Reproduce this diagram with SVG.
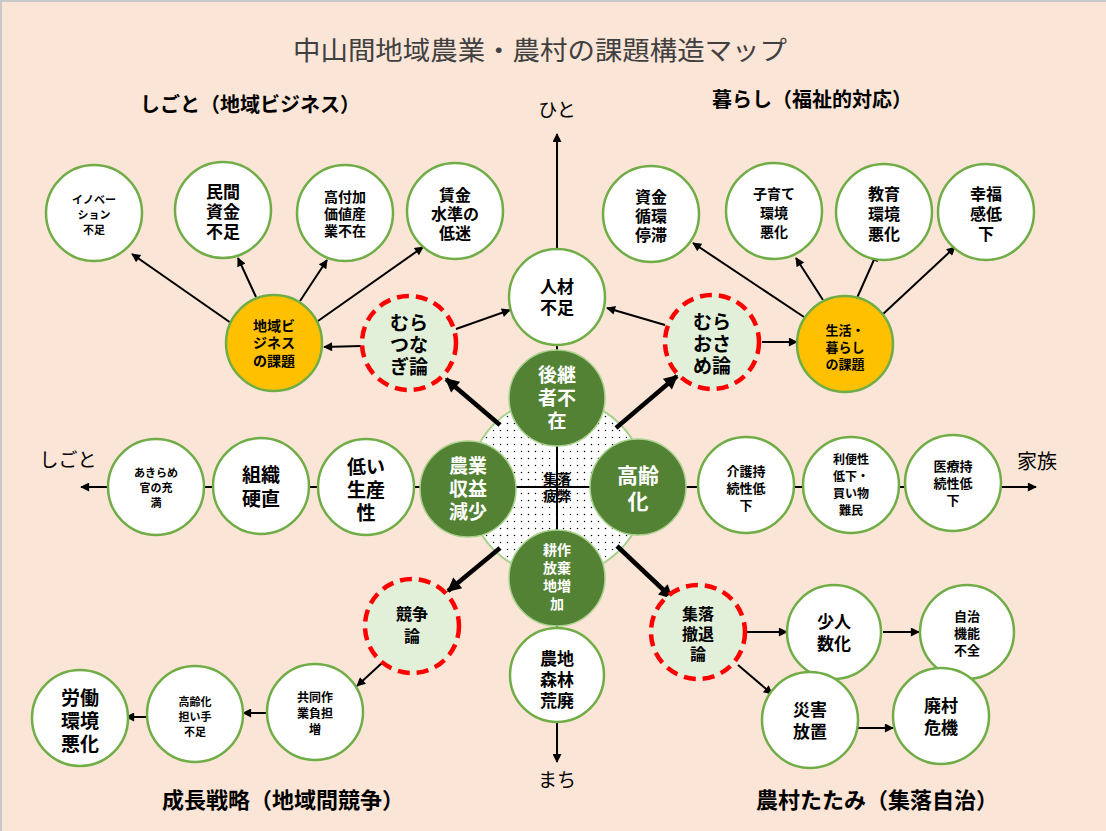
<svg xmlns="http://www.w3.org/2000/svg" width="1106" height="831" viewBox="0 0 1106 831">
<style>
  text { font-family: "Liberation Sans", "Noto Sans CJK JP", sans-serif; text-anchor: middle; font-weight: bold; fill: #000; }
  .w { fill: #fff; stroke: #70AD47; stroke-width: 2.5; }
  .dg { fill: #548235; stroke: #A9D18E; stroke-width: 1.5; }
  .or { fill: #FFC000; stroke: #70AD47; stroke-width: 2.5; }
  .rd { fill: #E2F0D9; stroke: #FF0000; stroke-width: 4.5; stroke-dasharray: 12 7; }
  .wt { fill: #fff; }
  .ln { stroke: #000; stroke-width: 2; fill: none; }
  .thin { stroke: #000; stroke-width: 2; fill: none; marker-end: url(#ah); }
  .thick { stroke: #000; stroke-width: 4.5; fill: none; marker-end: url(#ahb); }
  .sec { font-size: 20px; }
  .ax { font-size: 19px; font-weight: normal; }
</style>
<defs>
  <marker id="ah" viewBox="0 0 10 10" refX="9" refY="5" markerWidth="11" markerHeight="9" markerUnits="userSpaceOnUse" orient="auto">
    <path d="M0,0 L10,5 L0,10 z" fill="#000"/>
  </marker>
  <marker id="ahb" viewBox="0 0 10 10" refX="9" refY="5" markerWidth="16" markerHeight="14" markerUnits="userSpaceOnUse" orient="auto">
    <path d="M0,0 L10,5 L0,10 z" fill="#000"/>
  </marker>
  <pattern id="dots" width="7" height="7" patternUnits="userSpaceOnUse">
    <rect width="7" height="7" fill="#fff"/>
    <circle cx="3.5" cy="3.5" r="0.75" fill="#000"/>
  </pattern>
</defs>

<rect x="0" y="0" width="1106" height="831" fill="#FBE5D6"/>
<path d="M0,1 H1106 M1,0 V831" stroke="#C8C8C8" stroke-width="2" fill="none"/>

<!-- titles -->
<text x="540" y="60" font-size="26" style="font-weight:normal;fill:#404040" textLength="494" lengthAdjust="spacingAndGlyphs">中山間地域農業・農村の課題構造マップ</text>
<text class="sec" x="250" y="112">しごと（地域ビジネス）</text>
<text class="sec" x="812" y="107">暮らし（福祉的対応）</text>
<text class="sec" x="283" y="808" style="font-size:22px">成長戦略（地域間競争）</text>
<text class="sec" x="877" y="808" style="font-size:22px">農村たたみ（集落自治）</text>
<text class="ax" x="557" y="117">ひと</text>
<text class="ax" x="68" y="467">しごと</text>
<text class="ax" x="1037" y="469" style="font-size:20px">家族</text>
<text class="ax" x="557" y="787">まち</text>

<!-- center node -->
<g id="n-shuraku-hihei">
  <circle cx="557" cy="487" r="89" fill="url(#dots)" stroke="#A9D18E" stroke-width="2"/>
</g>

<!-- connectors -->
<g id="connectors">
  <line class="ln" x1="557" y1="250" x2="557" y2="720"/>
  <line class="ln" x1="205" y1="487" x2="905" y2="487"/>
  <line class="thin" x1="557" y1="250" x2="557" y2="134"/>
  <line class="thin" x1="557" y1="722" x2="557" y2="762"/>
  <line class="thin" x1="110" y1="487" x2="81" y2="487"/>
  <line class="thin" x1="1000" y1="487" x2="1036" y2="487"/>
  <!-- business -->
  <line class="thin" x1="231" y1="323" x2="132" y2="254"/>
  <line class="thin" x1="256" y1="297" x2="238" y2="258"/>
  <line class="thin" x1="300" y1="301" x2="327" y2="260"/>
  <line class="thin" x1="318" y1="321" x2="423" y2="247"/>
  <line class="thin" x1="361" y1="346" x2="324" y2="347"/>
  <line class="thin" x1="456" y1="329" x2="510" y2="310"/>
  <!-- life -->
  <line class="thin" x1="804" y1="317" x2="693" y2="243"/>
  <line class="thin" x1="823" y1="300" x2="796" y2="258"/>
  <line class="thin" x1="857" y1="298" x2="877" y2="253"/>
  <line class="thin" x1="882" y1="315" x2="955" y2="247"/>
  <line class="thin" x1="665" y1="325" x2="607" y2="308"/>
  <line class="thin" x1="762" y1="342" x2="797" y2="342"/>
  <!-- thick diagonals -->
  <line class="thick" x1="500" y1="425" x2="446" y2="379"/>
  <line class="thick" x1="616" y1="428" x2="677" y2="376"/>
  <line class="thick" x1="500" y1="548" x2="448" y2="591"/>
  <line class="thick" x1="617" y1="546" x2="672" y2="598"/>
  <!-- bottom left -->
  <line class="thin" x1="383" y1="662" x2="357" y2="686"/>
  <line class="thin" x1="267" y1="713" x2="243" y2="713"/>
  <line class="thin" x1="148" y1="717" x2="126" y2="717"/>
  <!-- bottom right -->
  <line class="thin" x1="745" y1="632" x2="787" y2="632"/>
  <line class="thin" x1="883" y1="632" x2="919" y2="632"/>
  <line class="thin" x1="738" y1="665" x2="772" y2="694"/>
  <line class="thin" x1="858" y1="728" x2="893" y2="728"/>
</g>

<g id="n-shuraku-text">
  <text x="557" y="484" font-size="14">集落</text>
  <text x="557" y="501" font-size="14">疲弊</text>
</g>

<!-- center dark nodes -->
<g id="n-koukei">
  <circle class="dg" cx="557" cy="398" r="48"/>
  <text class="wt" font-size="19"><tspan x="557" y="382">後継</tspan><tspan x="557" y="405">者不</tspan><tspan x="557" y="428">在</tspan></text>
</g>
<g id="n-nougyou">
  <circle class="dg" cx="468" cy="489" r="48"/>
  <text class="wt" font-size="19"><tspan x="468" y="473">農業</tspan><tspan x="468" y="496">収益</tspan><tspan x="468" y="519">減少</tspan></text>
</g>
<g id="n-koureika">
  <circle class="dg" cx="638" cy="487" r="48"/>
  <text class="wt" font-size="21"><tspan x="638" y="483">高齢</tspan><tspan x="638" y="509">化</tspan></text>
</g>
<g id="n-kousaku">
  <circle class="dg" cx="557" cy="578" r="48"/>
  <text class="wt" font-size="14"><tspan x="557" y="555">耕作</tspan><tspan x="557" y="573">放棄</tspan><tspan x="557" y="591">地増</tspan><tspan x="557" y="609">加</tspan></text>
</g>

<!-- top center -->
<g id="n-jinzai">
  <circle class="w" cx="557" cy="297" r="48"/>
  <text font-size="17"><tspan x="557" y="293">人材</tspan><tspan x="557" y="314">不足</tspan></text>
</g>

<!-- business side -->
<g id="n-innov">
  <circle class="w" cx="94" cy="213" r="48"/>
  <text font-size="11"><tspan x="94" y="204">イノベー</tspan><tspan x="94" y="219">ション</tspan><tspan x="94" y="234">不足</tspan></text>
</g>
<g id="n-minkan">
  <circle class="w" cx="223" cy="210" r="48"/>
  <text font-size="17"><tspan x="223" y="198">民間</tspan><tspan x="223" y="218">資金</tspan><tspan x="223" y="238">不足</tspan></text>
</g>
<g id="n-koufuka">
  <circle class="w" cx="345" cy="213" r="48"/>
  <text font-size="14"><tspan x="345" y="202">高付加</tspan><tspan x="345" y="219">価値産</tspan><tspan x="345" y="236">業不在</tspan></text>
</g>
<g id="n-chingin">
  <circle class="w" cx="455" cy="211" r="48"/>
  <text font-size="16"><tspan x="455" y="201">賃金</tspan><tspan x="455" y="220">水準の</tspan><tspan x="455" y="239">低迷</tspan></text>
</g>
<g id="n-chiiki-biz">
  <circle class="or" cx="274" cy="343" r="48"/>
  <text font-size="14"><tspan x="274" y="331">地域ビ</tspan><tspan x="274" y="348">ジネス</tspan><tspan x="274" y="366">の課題</tspan></text>
</g>
<g id="n-muratsunagi">
  <circle class="rd" cx="409" cy="343" r="47"/>
  <text font-size="19"><tspan x="409" y="330">むら</tspan><tspan x="409" y="352">つな</tspan><tspan x="409" y="374">ぎ論</tspan></text>
</g>

<!-- life side -->
<g id="n-shikin">
  <circle class="w" cx="651" cy="214" r="48"/>
  <text font-size="16"><tspan x="651" y="203">資金</tspan><tspan x="651" y="222">循環</tspan><tspan x="651" y="241">停滞</tspan></text>
</g>
<g id="n-kosodate">
  <circle class="w" cx="774" cy="211" r="48"/>
  <text font-size="14"><tspan x="774" y="199">子育て</tspan><tspan x="774" y="218">環境</tspan><tspan x="774" y="237">悪化</tspan></text>
</g>
<g id="n-kyouiku">
  <circle class="w" cx="884" cy="212" r="48"/>
  <text font-size="16"><tspan x="884" y="200">教育</tspan><tspan x="884" y="220">環境</tspan><tspan x="884" y="240">悪化</tspan></text>
</g>
<g id="n-koufuku">
  <circle class="w" cx="986" cy="212" r="48"/>
  <text font-size="16"><tspan x="986" y="200">幸福</tspan><tspan x="986" y="220">感低</tspan><tspan x="986" y="240">下</tspan></text>
</g>
<g id="n-seikatsu">
  <circle class="or" cx="845" cy="344" r="48"/>
  <text font-size="13"><tspan x="845" y="335">生活・</tspan><tspan x="845" y="352">暮らし</tspan><tspan x="845" y="369">の課題</tspan></text>
</g>
<g id="n-muraosame">
  <circle class="rd" cx="712" cy="342" r="47"/>
  <text font-size="19"><tspan x="712" y="329">むら</tspan><tspan x="712" y="351">おさ</tspan><tspan x="712" y="373">め論</tspan></text>
</g>

<!-- middle left -->
<g id="n-akirame">
  <circle class="w" cx="156" cy="487" r="48"/>
  <text font-size="11"><tspan x="156" y="477">あきらめ</tspan><tspan x="156" y="492">官の充</tspan><tspan x="156" y="507">満</tspan></text>
</g>
<g id="n-soshiki">
  <circle class="w" cx="261" cy="486" r="48"/>
  <text font-size="19"><tspan x="261" y="482">組織</tspan><tspan x="261" y="506">硬直</tspan></text>
</g>
<g id="n-hikui">
  <circle class="w" cx="366" cy="487" r="48"/>
  <text font-size="19"><tspan x="366" y="474">低い</tspan><tspan x="366" y="497">生産</tspan><tspan x="366" y="520">性</tspan></text>
</g>

<!-- middle right -->
<g id="n-kaigo">
  <circle class="w" cx="746" cy="485" r="48"/>
  <text font-size="13"><tspan x="746" y="476">介護持</tspan><tspan x="746" y="493">続性低</tspan><tspan x="746" y="510">下</tspan></text>
</g>
<g id="n-benri">
  <circle class="w" cx="851" cy="485" r="48"/>
  <text font-size="12"><tspan x="851" y="464">利便性</tspan><tspan x="851" y="481">低下・</tspan><tspan x="851" y="498">買い物</tspan><tspan x="851" y="515">難民</tspan></text>
</g>
<g id="n-iryou">
  <circle class="w" cx="953" cy="483" r="48"/>
  <text font-size="13"><tspan x="953" y="471">医療持</tspan><tspan x="953" y="488">続性低</tspan><tspan x="953" y="505">下</tspan></text>
</g>

<!-- bottom left -->
<g id="n-kyousou">
  <circle class="rd" cx="412" cy="626" r="47"/>
  <text font-size="16"><tspan x="412" y="620">競争</tspan><tspan x="412" y="642">論</tspan></text>
</g>
<g id="n-kyoudou">
  <circle class="w" cx="315" cy="712" r="48"/>
  <text font-size="12"><tspan x="315" y="702">共同作</tspan><tspan x="315" y="718">業負担</tspan><tspan x="315" y="734">増</tspan></text>
</g>
<g id="n-ninaite">
  <circle class="w" cx="195" cy="714" r="48"/>
  <text font-size="11"><tspan x="195" y="706">高齢化</tspan><tspan x="195" y="721">担い手</tspan><tspan x="195" y="736">不足</tspan></text>
</g>
<g id="n-roudou">
  <circle class="w" cx="80" cy="718" r="48"/>
  <text font-size="19"><tspan x="80" y="705">労働</tspan><tspan x="80" y="728">環境</tspan><tspan x="80" y="751">悪化</tspan></text>
</g>

<!-- bottom right -->
<g id="n-nouchi">
  <circle class="w" cx="557" cy="675" r="47"/>
  <text font-size="17"><tspan x="557" y="665">農地</tspan><tspan x="557" y="686">森林</tspan><tspan x="557" y="707">荒廃</tspan></text>
</g>
<g id="n-tettai">
  <circle class="rd" cx="698" cy="632" r="47"/>
  <text font-size="16"><tspan x="698" y="620">集落</tspan><tspan x="698" y="640">撤退</tspan><tspan x="698" y="660">論</tspan></text>
</g>
<g id="n-shouninzu">
  <circle class="w" cx="834" cy="632" r="47"/>
  <text font-size="17"><tspan x="834" y="628">少人</tspan><tspan x="834" y="650">数化</tspan></text>
</g>
<g id="n-jichi">
  <circle class="w" cx="967" cy="632" r="47"/>
  <text font-size="13"><tspan x="967" y="621">自治</tspan><tspan x="967" y="638">機能</tspan><tspan x="967" y="655">不全</tspan></text>
</g>
<g id="n-saigai">
  <circle class="w" cx="810" cy="720" r="48"/>
  <text font-size="17"><tspan x="810" y="716">災害</tspan><tspan x="810" y="738">放置</tspan></text>
</g>
<g id="n-haison">
  <circle class="w" cx="941" cy="716" r="48"/>
  <text font-size="17"><tspan x="941" y="712">廃村</tspan><tspan x="941" y="734">危機</tspan></text>
</g>
</svg>
